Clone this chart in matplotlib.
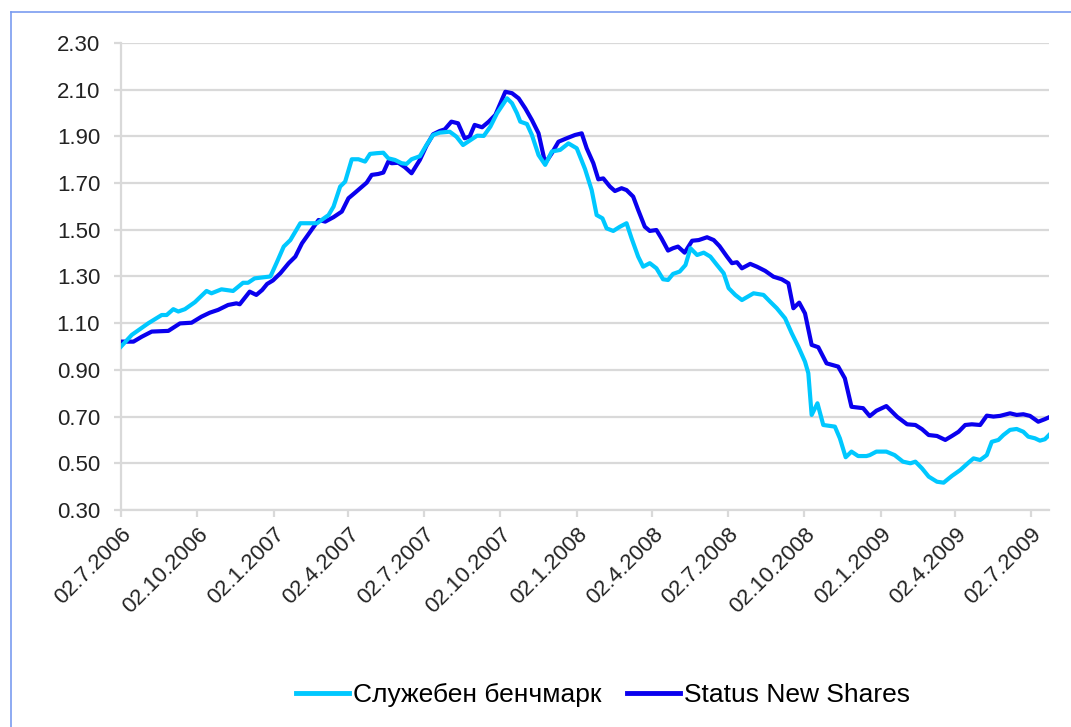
"""Weekly index: service benchmark vs Status New Shares, 07.2006 - 07.2009."""

from datetime import date, timedelta

import matplotlib
matplotlib.use("Agg")
import matplotlib.pyplot as plt
from matplotlib.lines import Line2D

START = date(2006, 7, 2)

# days after 02.7.2006 and the value
bench_days = [0, 13, 33, 49, 55, 63, 69, 77, 89, 103, 109, 121, 135, 147, 153, 161, 180,
              188, 196, 204, 216, 236, 250, 256, 264, 270, 278, 286, 294, 300, 308, 316,
              322, 330, 338, 344, 350, 360, 368, 376, 384, 396, 404, 412, 420, 429, 437,
              445, 453, 465, 471, 477, 481, 489, 495, 503, 511, 519, 529, 539, 549, 559,
              567, 573, 580, 585, 593, 601, 609, 615, 623, 629, 637, 645, 653, 659, 665,
              673, 680, 686, 694, 702, 710, 718, 726, 732, 740, 748, 762, 774, 782, 790,
              800, 808, 816, 824, 828, 832, 839, 846, 860, 866, 873, 880, 888, 898, 902,
              910, 922, 932, 942, 951, 957, 965, 973, 983, 991, 1001, 1011, 1021, 1027,
              1035, 1043, 1049, 1057, 1063, 1071, 1079, 1087, 1093, 1101, 1107, 1113, 1118]
bench = [1.00, 1.05, 1.10, 1.135, 1.135, 1.16, 1.15, 1.16, 1.19, 1.238, 1.228, 1.245,
         1.238, 1.273, 1.273, 1.292, 1.30, 1.363, 1.428, 1.456, 1.528, 1.528, 1.563, 1.599,
         1.685, 1.706, 1.802, 1.802, 1.792, 1.825, 1.828, 1.830, 1.806, 1.799, 1.785, 1.782,
         1.802, 1.815, 1.863, 1.906, 1.916, 1.920, 1.899, 1.863, 1.882, 1.903, 1.902, 1.942,
         1.999, 2.063, 2.042, 1.999, 1.963, 1.953, 1.906, 1.820, 1.778, 1.835, 1.842, 1.870,
         1.849, 1.76, 1.670, 1.563, 1.549, 1.506, 1.495, 1.513, 1.528, 1.464, 1.385, 1.342,
         1.357, 1.335, 1.288, 1.285, 1.311, 1.321, 1.349, 1.421, 1.392, 1.402, 1.385, 1.349,
         1.314, 1.250, 1.221, 1.199, 1.228, 1.221, 1.192, 1.164, 1.121, 1.057, 0.999, 0.935,
         0.886, 0.707, 0.757, 0.664, 0.657, 0.607, 0.526, 0.550, 0.531, 0.531, 0.535, 0.550,
         0.550, 0.535, 0.507, 0.500, 0.507, 0.478, 0.443, 0.421, 0.417, 0.446, 0.471, 0.503,
         0.521, 0.514, 0.535, 0.592, 0.600, 0.621, 0.643, 0.647, 0.635, 0.614, 0.607, 0.597,
         0.603, 0.621]

status_days = [0, 15, 25, 37, 57, 71, 85, 97, 107, 117, 129, 139, 143, 155, 163, 170, 176,
               183, 192, 202, 210, 218, 228, 238, 246, 256, 266, 274, 282, 296, 302, 310,
               316, 322, 326, 334, 342, 350, 360, 368, 376, 384, 390, 398, 406, 414, 420,
               426, 435, 443, 451, 457, 463, 471, 479, 487, 495, 503, 511, 519, 527, 537,
               547, 555, 561, 569, 575, 581, 589, 595, 603, 609, 617, 623, 631, 637, 645,
               651, 659, 665, 671, 679, 688, 696, 706, 714, 721, 730, 736, 742, 748, 758,
               766, 776, 786, 796, 804, 810, 817, 824, 832, 840, 850, 864, 872, 880, 894,
               902, 910, 922, 935, 947, 957, 965, 973, 983, 993, 1001, 1009, 1017, 1025,
               1035, 1043, 1051, 1059, 1071, 1079, 1087, 1095, 1105, 1113, 1118]
status = [1.021, 1.021, 1.042, 1.064, 1.067, 1.099, 1.102, 1.128, 1.145, 1.157, 1.178,
          1.185, 1.181, 1.235, 1.221, 1.242, 1.268, 1.283, 1.314, 1.357, 1.385, 1.442, 1.492,
          1.542, 1.535, 1.554, 1.578, 1.635, 1.659, 1.702, 1.735, 1.739, 1.745, 1.792, 1.785,
          1.787, 1.768, 1.742, 1.799, 1.860, 1.909, 1.923, 1.930, 1.963, 1.956, 1.892, 1.899,
          1.949, 1.939, 1.963, 1.992, 2.042, 2.091, 2.085, 2.063, 2.020, 1.970, 1.913, 1.785,
          1.828, 1.877, 1.892, 1.906, 1.913, 1.849, 1.785, 1.716, 1.720, 1.685, 1.666, 1.678,
          1.670, 1.642, 1.585, 1.513, 1.495, 1.499, 1.464, 1.411, 1.421, 1.428, 1.402, 1.453,
          1.456, 1.468, 1.456, 1.430, 1.385, 1.357, 1.361, 1.335, 1.354, 1.342, 1.324, 1.299,
          1.288, 1.271, 1.164, 1.188, 1.142, 1.007, 0.997, 0.928, 0.914, 0.864, 0.742, 0.736,
          0.702, 0.725, 0.745, 0.699, 0.667, 0.664, 0.646, 0.621, 0.617, 0.600, 0.617, 0.635,
          0.664, 0.667, 0.664, 0.704, 0.700, 0.703, 0.714, 0.707, 0.710, 0.703, 0.678, 0.689,
          0.697]

labels = ["Служебен бенчмарк", "Status New Shares"]
colors = ["#00c8ff", "#0a00ee"]

tick_dates = [date(2006, 7, 2), date(2006, 10, 2), date(2007, 1, 2), date(2007, 4, 2),
              date(2007, 7, 2), date(2007, 10, 2), date(2008, 1, 2), date(2008, 4, 2),
              date(2008, 7, 2), date(2008, 10, 2), date(2009, 1, 2), date(2009, 4, 2),
              date(2009, 7, 2)]
y_ticks = [0.30, 0.50, 0.70, 0.90, 1.10, 1.30, 1.50, 1.70, 1.90, 2.10, 2.30]

plt.rcParams["font.family"] = ["Liberation Sans", "DejaVu Sans"]

fig = plt.figure(figsize=(10.71, 7.27), dpi=100)
ax = fig.add_axes([0.113, 0.2985, 0.8665, 0.6424])

grey = "#d9d9d9"
for d, v, c, lab in [(bench_days, bench, colors[0], labels[0]),
                     (status_days, status, colors[1], labels[1])]:
    xs = [START + timedelta(days=k) for k in d]
    ax.plot(xs, v, color=c, lw=3.0, solid_joinstyle="round", label=lab,
            zorder=3 if c == colors[1] else 4)

ax.set_xlim(START, START + timedelta(days=1118))
ax.set_ylim(0.30, 2.30)
ax.set_yticks(y_ticks)
ax.set_yticklabels([f"{t:.2f}" for t in y_ticks])
ax.set_xticks(tick_dates)
ax.set_xticklabels([f"{d.day:02d}.{d.month}.{d.year}" for d in tick_dates],
                   rotation=45, ha="right", va="top", rotation_mode="anchor")

ax.grid(axis="y", color=grey, lw=1.6)
ax.set_axisbelow(True)
for s in ["top", "right"]:
    ax.spines[s].set_visible(False)
for s in ["left", "bottom"]:
    ax.spines[s].set_color(grey)
    ax.spines[s].set_linewidth(1.6)
ax.tick_params(axis="both", colors=grey, width=1.6, length=5, labelsize=16,
               labelcolor="#222222")
ax.tick_params(axis="y", pad=10)
ax.tick_params(axis="x", pad=5)

handles = [Line2D([], [], color=c, lw=3.5) for c in colors]
fig.legend(handles, labels, loc="center", bbox_to_anchor=(0.563, 0.044), ncol=2,
           frameon=False, fontsize=19, handlelength=2.0, handletextpad=0.15,
           columnspacing=1.0)

# thin blue frame around the chart area (left and top edges visible)
fig.add_artist(Line2D([0.0103, 0.0103], [0.0, 0.984], color="#7a9cf0", lw=1.2,
                      transform=fig.transFigure))
fig.add_artist(Line2D([0.0103, 1.0], [0.984, 0.984], color="#7a9cf0", lw=1.2,
                      transform=fig.transFigure))

fig.savefig("out.png", dpi=100)
